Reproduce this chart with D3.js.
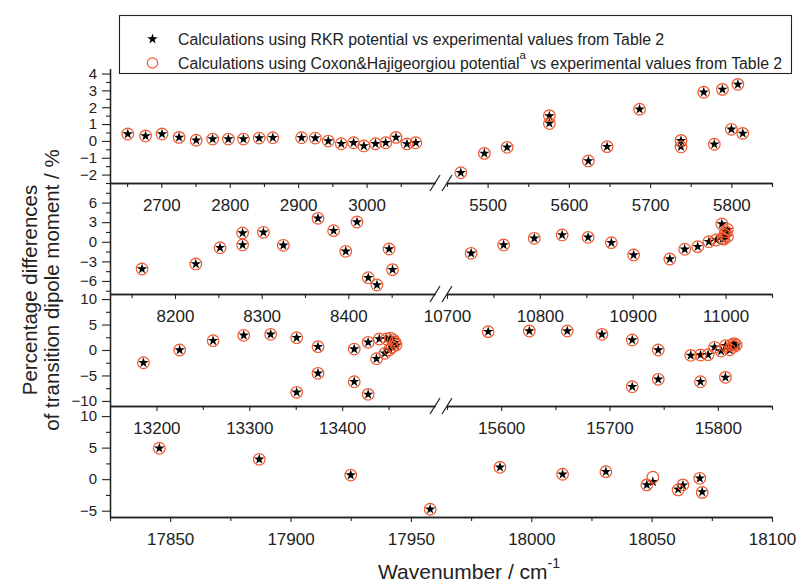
<!DOCTYPE html>
<html>
<head>
<meta charset="utf-8">
<script src="https://cdn.jsdelivr.net/npm/d3@7/dist/d3.min.js"></script>
<style>
    body { margin: 0; background: #fff; }
    svg text { font-family: "Liberation Sans", Arial, sans-serif; fill: #222; }
</style>
</head>
<body>
<svg id="chart" width="796" height="583"></svg>
<script>
'use strict';

// panel 1 : 2625-3100 | 5450-5850
var p1Wn  = [2651, 2677, 2701, 2726, 2751, 2775, 2798, 2820, 2843, 2863, 2905, 2925, 2944, 2963, 2981, 2996, 3013, 3028, 3043, 3059, 3072,
             5467, 5496, 5524, 5576, 5576, 5624, 5647, 5687, 5738, 5738, 5766, 5779, 5789, 5800, 5808, 5814];
var p1Rkr = [0.41, 0.29, 0.41, 0.21, 0.04, 0.11, 0.11, 0.11, 0.17, 0.19, 0.19, 0.17, -0.01, -0.17, -0.11, -0.30, -0.17, -0.11, 0.21, -0.18, -0.11,
             -1.89, -0.74, -0.38, 1.48, 1.05, -1.19, -0.34, 1.88, 0.01, -0.34, 2.89, -0.20, 3.06, 0.69, 3.36, 0.45];
var p1Cox = [0.41, 0.29, 0.41, 0.21, 0.04, 0.11, 0.11, 0.11, 0.17, 0.19, 0.19, 0.17, -0.01, -0.17, -0.11, -0.30, -0.17, -0.11, 0.21, -0.18, -0.11,
             -1.89, -0.74, -0.38, 1.50, 1.03, -1.19, -0.34, 1.88, 0.03, -0.36, 2.89, -0.20, 3.06, 0.69, 3.36, 0.45];

// panel 2 : 8125-8500 | 10700-11050
var p2Wn  = [8162, 8224, 8252, 8278, 8278, 8302, 8325, 8365, 8383, 8397, 8410, 8423, 8433, 8447, 8451,
             10726, 10761, 10794, 10824, 10852, 10877, 10901, 10940, 10956, 10970, 10982, 10990, 10996, 10997, 10998, 10999, 11000, 11002, 11002];
var p2Rkr = [-4.17, -3.40, -0.91, 1.34, -0.49, 1.45, -0.54, 3.59, 1.70, -1.46, 3.03, -5.50, -6.62, -1.11, -4.27,
             -1.77, -0.49, 0.53, 1.04, 0.68, -0.14, -2.03, -2.64, -1.15, -0.75, 0.01, 0.27, 2.72, 0.53, 0.38, 1.04, 1.50, 1.85, 0.78];
var p2Cox = [-4.17, -3.40, -0.91, 1.34, -0.49, 1.45, -0.54, 3.59, 1.70, -1.46, 3.03, -5.50, -6.62, -1.11, -4.27,
             -1.77, -0.49, 0.53, 1.04, 0.68, -0.14, -2.03, -2.64, -1.15, -0.75, 0.01, 0.27, 2.72, 0.55, 0.40, 1.10, 1.55, 1.90, 0.80];

// panel 3 : 13150-13500 | 15550-15850
var p3Wn  = [13186, 13225, 13261, 13294, 13323, 13351, 13351, 13374, 13374, 13413, 13413, 13428, 13428, 13437, 13440, 13446, 13448, 13451, 13452, 13454, 13455, 13457, 13458,
             15588, 15626, 15661, 15693, 15721, 15721, 15745, 15745, 15775, 15784, 15784, 15791, 15797, 15803, 15807, 15807, 15811, 15813, 15815, 15815, 15817];
var p3Rkr = [-2.50, 0.00, 1.83, 2.89, 3.08, 2.42, -8.31, 0.65, -4.58, 0.19, -6.23, 1.51, -8.71, -1.71, 2.16, -0.65, 2.16, 0.00, 2.30, 0.53, 1.96, 1.43, 0.92,
             3.60, 3.73, 3.73, 3.08, 1.96, -7.21, 0.00, -5.76, -1.05, -0.98, -6.23, -0.92, 0.53, -0.20, -5.37, 0.83, -0.01, 0.98, 1.18, 0.65, 0.92];
var p3Cox = [-2.50, 0.00, 1.83, 2.89, 3.08, 2.42, -8.31, 0.65, -4.58, 0.19, -6.23, 1.51, -8.71, -1.71, 2.16, -0.65, 2.16, 0.05, 2.35, 0.60, 2.00, 1.50, 1.00,
             3.60, 3.73, 3.73, 3.08, 1.96, -7.21, 0.00, -5.76, -1.05, -0.98, -6.23, -0.92, 0.53, -0.20, -5.37, 0.83, 0.05, 1.05, 1.25, 0.70, 1.00];

// panel 4 : 17825-18100 (no break)
var p4Wn  = [17845.5, 17887, 17925, 17958, 17987, 18013, 18031, 18048, 18050.5, 18061, 18063, 18070, 18071];
var p4Rkr = [4.90, 3.15, 0.65, -4.77, 1.89, 0.78, 1.19, -0.91, -0.40, -1.60, -0.97, 0.14, -2.03];
var p4Cox = [4.90, 3.15, 0.65, -4.77, 1.89, 0.78, 1.19, -0.91, 0.30, -1.71, -0.90, 0.14, -2.10];

// axis set-up for the four stacked panels
var xLeftDomains  = [[2625, 3100], [8125, 8500], [13150, 13500], [17825, 18100]];
var xRightDomains = [[5450, 5850], [10700, 11050], [15550, 15850], null];
var xMajorSteps   = [100, 100, 100, 50];
var yDomains      = [[-2.5, 4.3], [-8, 9], [-11, 11], [-6, 11.6]];
var yMajorTicks   = [[-2, -1, 0, 1, 2, 3, 4], [-6, -3, 0, 3, 6], [-10, -5, 0, 5, 10], [-5, 0, 5, 10]];
var yMinorTicks   = [[-2.5, -1.5, -0.5, 0.5, 1.5, 2.5, 3.5], [-7.5, -4.5, -1.5, 1.5, 4.5, 7.5], [-7.5, -2.5, 2.5, 7.5], [-2.5, 2.5, 7.5]];

var legendLabels = ['Calculations using RKR potential vs experimental values from Table 2',
                    'Calculations using Coxon&Hajigeorgiou potential'];

var panelTop    = [68.5, 183, 294, 406];
var panelBottom = [183, 294, 406, 517];
var plotLeft = 110, plotRight = 772;
var segLeft = [110, 435], segRight = [447, 772];

var circleColor = '#f2572b';
var axisColor = '#222';

var svg = d3.select('#chart');

var panels = [
    {wn: p1Wn, rkr: p1Rkr, cox: p1Cox},
    {wn: p2Wn, rkr: p2Rkr, cox: p2Cox},
    {wn: p3Wn, rkr: p3Rkr, cox: p3Cox},
    {wn: p4Wn, rkr: p4Rkr, cox: p4Cox}
];

//multiples of step inside [d0, d1]
function stepTicks(d0, d1, step, dropEnd) {
    var out = [];
    var v = Math.ceil(d0 / step - 1e-9) * step;
    for (; v <= d1 + 1e-9; v += step) {
        if (dropEnd && Math.abs(v - d1) < 1e-6) {
            continue;
        }
        out.push(v);
    }
    return out;
}

function styleAxis(g, fontSize) {
    g.attr('font-family', null).attr('font-size', null);
    g.selectAll('path.domain').attr('stroke', axisColor).attr('stroke-width', 1.3);
    g.selectAll('.tick line').attr('stroke', axisColor).attr('stroke-width', 1.1);
    g.selectAll('.tick text').style('font-size', fontSize + 'px').attr('fill', '#222');
}

function drawXAxis(g, scale, domain, step, dropEnd, y) {
    var major = stepTicks(domain[0], domain[1], step, dropEnd);
    var minor = stepTicks(domain[0], domain[1], step / 2, dropEnd).filter(function (v) {
        return major.indexOf(v) < 0;
    });
    g.append('g')
        .attr('transform', 'translate(0,' + y + ')')
        .call(d3.axisBottom(scale).tickValues(minor).tickSize(4).tickSizeOuter(0).tickFormat(''))
        .call(function (a) { styleAxis(a, 17); });
    g.append('g')
        .attr('transform', 'translate(0,' + y + ')')
        .call(d3.axisBottom(scale).tickValues(major).tickSize(5).tickSizeOuter(0).tickPadding(11).tickFormat(d3.format('d')))
        .call(function (a) { styleAxis(a, 17); });
}

function breakMarks(g, y) {
    [segLeft[1], segRight[0]].forEach(function (x) {
        g.append('line')
            .attr('x1', x - 5).attr('y1', y + 8)
            .attr('x2', x + 5).attr('y2', y - 8)
            .attr('stroke', axisColor)
            .attr('stroke-width', 1.2);
    });
}

var star = d3.symbol().type(d3.symbolStar).size(34);

panels.forEach(function (p, i) {
    var g = svg.append('g').attr('class', 'panel-' + (i + 1));
    var top = panelTop[i], bottom = panelBottom[i];
    var broken = xRightDomains[i] !== null;

    var xL = d3.scaleLinear().domain(xLeftDomains[i]).range(broken ? segLeft : [plotLeft, plotRight]);
    var xR = broken ? d3.scaleLinear().domain(xRightDomains[i]).range(segRight) : null;
    var y = d3.scaleLinear().domain(yDomains[i]).range([bottom, top]);

    function xPos(v) {
        return (broken && v >= xRightDomains[i][0]) ? xR(v) : xL(v);
    }

    //y axis, ticks pointing out
    g.append('g')
        .attr('transform', 'translate(' + plotLeft + ',0)')
        .call(d3.axisLeft(y).tickValues(yMinorTicks[i]).tickSize(4).tickSizeOuter(0).tickFormat(''))
        .call(function (a) { styleAxis(a, 15); });
    g.append('g')
        .attr('transform', 'translate(' + plotLeft + ',0)')
        .call(d3.axisLeft(y).tickValues(yMajorTicks[i]).tickSize(8).tickSizeOuter(0).tickPadding(5).tickFormat(d3.format('d')))
        .call(function (a) { styleAxis(a, 15); });

    //x axis at the bottom of each panel, labels hang into the panel below
    drawXAxis(g, xL, xLeftDomains[i], xMajorSteps[i], broken, bottom);
    if (broken) {
        drawXAxis(g, xR, xRightDomains[i], xMajorSteps[i], false, bottom);
        breakMarks(g, bottom);
    }

    var idx = d3.range(p.wn.length);

    g.append('g').selectAll('path')
        .data(idx)
        .enter().append('path')
        .attr('d', star)
        .attr('transform', function (k) {
            return 'translate(' + xPos(p.wn[k]) + ',' + y(p.rkr[k]) + ')';
        })
        .attr('fill', '#000');

    g.append('g').selectAll('circle')
        .data(idx)
        .enter().append('circle')
        .attr('cx', function (k) { return xPos(p.wn[k]); })
        .attr('cy', function (k) { return y(p.cox[k]); })
        .attr('r', 5.8)
        .attr('fill', 'none')
        .attr('stroke', circleColor)
        .attr('stroke-width', 1.2);
});

//legend
var lg = svg.append('g').attr('class', 'legend');
lg.append('rect')
    .attr('x', 119.5).attr('y', 15.5)
    .attr('width', 672).attr('height', 58)
    .attr('fill', '#fff')
    .attr('stroke', axisColor)
    .attr('stroke-width', 1.1);
lg.append('path')
    .attr('d', star)
    .attr('transform', 'translate(152.5,39)')
    .attr('fill', '#000');
lg.append('circle')
    .attr('cx', 152.5).attr('cy', 63)
    .attr('r', 5.2)
    .attr('fill', 'none')
    .attr('stroke', circleColor)
    .attr('stroke-width', 1.2);
lg.append('text')
    .attr('x', 178).attr('y', 44.5)
    .style('font-size', '15.8px')
    .text(legendLabels[0]);
var l2 = lg.append('text')
    .attr('x', 178).attr('y', 68.5)
    .style('font-size', '15.8px');
l2.append('tspan').text(legendLabels[1]);
l2.append('tspan').attr('dy', -10).style('font-size', '11.5px').text('a');
l2.append('tspan').attr('dy', 10).text(' vs experimental values from Table 2');

//axis titles
var yt = svg.append('g').attr('transform', 'translate(0,290) rotate(-90)');
yt.append('text')
    .attr('x', 0).attr('y', 37)
    .attr('text-anchor', 'middle')
    .style('font-size', '20.5px')
    .text('Percentage differences');
yt.append('text')
    .attr('x', 0).attr('y', 59)
    .attr('text-anchor', 'middle')
    .style('font-size', '20.5px')
    .text('of transition dipole moment  /  %');

var xt = svg.append('text')
    .attr('x', 378).attr('y', 579)
    .style('font-size', '21px');
xt.append('tspan').text('Wavenumber / cm');
xt.append('tspan').attr('dy', -11).style('font-size', '14px').text('-1');
</script>
</body>
</html>
